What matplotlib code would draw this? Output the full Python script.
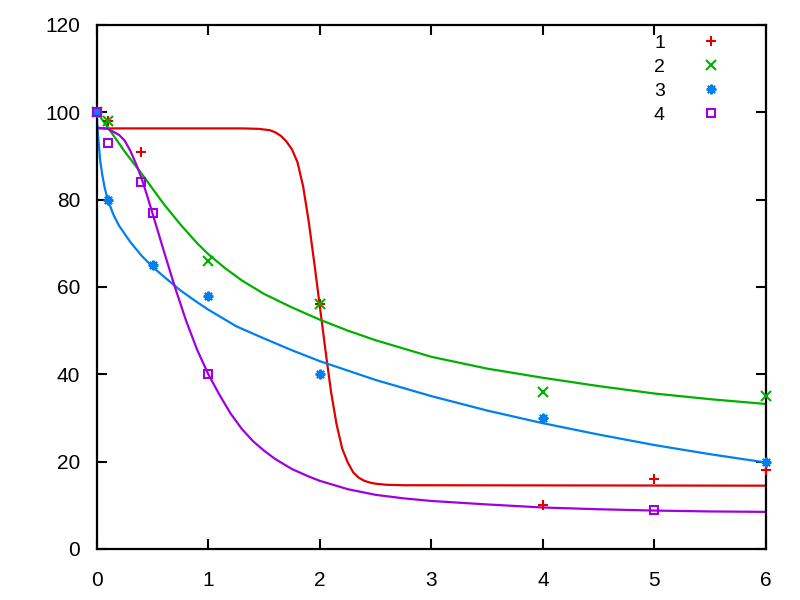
import matplotlib
matplotlib.use("Agg")
import matplotlib.pyplot as plt
from matplotlib.lines import Line2D

plt.rcParams['font.family'] = ['Liberation Sans', 'DejaVu Sans']

labels = ["1", "2", "3", "4"]
colors = ["#e00000", "#00b000", "#0080f0", "#a000e0"]
markers = ["+", "x", (8, 2, 0), "s"]

# measured points
x1 = [0, 0.1, 0.4, 2, 4, 5, 6]
y1 = [100, 98, 91, 56, 10, 16, 18]
x2 = [0, 0.1, 1, 2, 4, 6]
y2 = [100, 98, 66, 56, 36, 35]
x3 = [0, 0.1, 0.5, 1, 2, 4, 6]
y3 = [100, 80, 65, 58, 40, 30, 20]
x4 = [0, 0.1, 0.4, 0.5, 1, 5]
y4 = [100, 93, 84, 77, 40, 9]

# fitted curves
cx1 = [0, 1.3, 1.45, 1.55, 1.6, 1.65, 1.7, 1.75, 1.8, 1.85, 1.9, 1.95, 2.0,
       2.05, 2.1, 2.15, 2.2, 2.25, 2.3, 2.35, 2.4, 2.45, 2.5, 2.6, 2.75, 6]
cy1 = [96.3, 96.3, 96.2, 95.9, 95.4, 94.6, 93.3, 91.5, 88.5, 83, 75, 65.5, 55.5,
       45.5, 36, 28.5, 23, 19.8, 17.5, 16.3, 15.6, 15.2, 14.95, 14.7, 14.6, 14.5]
cx2 = [0, 0.1, 0.25, 0.4, 0.5, 0.6, 0.75, 0.9, 1, 1.15, 1.3, 1.5, 1.75, 2, 2.25,
       2.5, 3, 3.5, 4, 4.5, 5, 5.5, 6]
cy2 = [100, 96.5, 91, 86, 82.5, 79, 74.3, 70, 67.5, 64.3, 61.5, 58.4, 55.3,
       52.5, 50, 47.8, 44, 41.3, 39.2, 37.3, 35.6, 34.3, 33.2]
cx3 = [0, 0.01, 0.03, 0.05, 0.07, 0.1, 0.15, 0.2, 0.3, 0.4, 0.5, 0.6, 0.75,
       0.9, 1, 1.25, 1.5, 1.75, 2, 2.5, 3, 3.5, 4, 4.5, 5, 5.5, 6]
cy3 = [99, 95, 89, 85.5, 82.8, 79.8, 76.5, 74, 70.3, 67.2, 64.6, 62.4, 59.2,
       56.5, 54.8, 51, 48.2, 45.5, 43, 38.7, 35, 31.7, 28.8, 26.2, 23.8, 21.7, 19.8]
cx4 = [0, 0.1, 0.2, 0.25, 0.3, 0.35, 0.4, 0.45, 0.5, 0.6, 0.7, 0.8, 0.9, 1,
       1.1, 1.2, 1.3, 1.4, 1.5, 1.6, 1.75, 1.9, 2, 2.25, 2.5, 2.75, 3, 3.5, 4,
       4.5, 5, 5.5, 6]
cy4 = [96.5, 96.2, 94.8, 93.5, 91.2, 88.3, 85, 81, 76.8, 68.3, 60, 52.3, 45.6,
       40, 35.3, 31, 27.5, 24.7, 22.5, 20.6, 18.3, 16.6, 15.6, 13.7, 12.4, 11.6,
       11.0, 10.2, 9.5, 9.1, 8.8, 8.6, 8.5]

xticks = [0, 1, 2, 3, 4, 5, 6]
yticks = [0, 20, 40, 60, 80, 100, 120]

fig = plt.figure(figsize=(8, 6), dpi=100)
ax = fig.add_axes([0.121, 0.085, 0.8365, 0.8735])

pts = [(x1, y1), (x2, y2), (x3, y3), (x4, y4)]
curves = [(cx1, cy1), (cx2, cy2), (cx3, cy3), (cx4, cy4)]
handles = []
for i in range(4):
    cx, cy = curves[i]
    ax.plot(cx, cy, color=colors[i], lw=1.6, clip_on=True, zorder=2,
            solid_joinstyle="round")
for i in range(4):
    px, py = pts[i]
    ms = 6 if markers[i] == "s" else 7
    mew = 1.5
    ax.plot(px, py, linestyle="none", marker=markers[i], color=colors[i],
            mfc="none" if markers[i] == "s" else colors[i], ms=ms, mew=mew,
            clip_on=False, zorder=3)
    handles.append(Line2D([], [], linestyle="none", marker=markers[i],
                          color=colors[i],
                          mfc="none" if markers[i] == "s" else colors[i],
                          ms=ms, mew=mew))

ax.set_xlim(0, 6)
ax.set_ylim(0, 120)
ax.set_xticks(xticks)
ax.set_yticks(yticks)
ax.tick_params(direction="in", length=7, width=1.5, top=True, right=True,
               labelsize=15)
ax.tick_params(axis="x", pad=16)
ax.tick_params(axis="y", pad=12)
for s in ax.spines.values():
    s.set_linewidth(1.6)

leg = ax.legend(handles, labels, loc="upper right", markerfirst=False,
                frameon=False, fontsize=14, handlelength=1.0,
                handletextpad=1.85, labelspacing=0.32,
                bbox_to_anchor=(0.958, 1.015))
for t in leg.get_texts():
    t.set_ha("right")

fig.savefig("out.png", dpi=100)
